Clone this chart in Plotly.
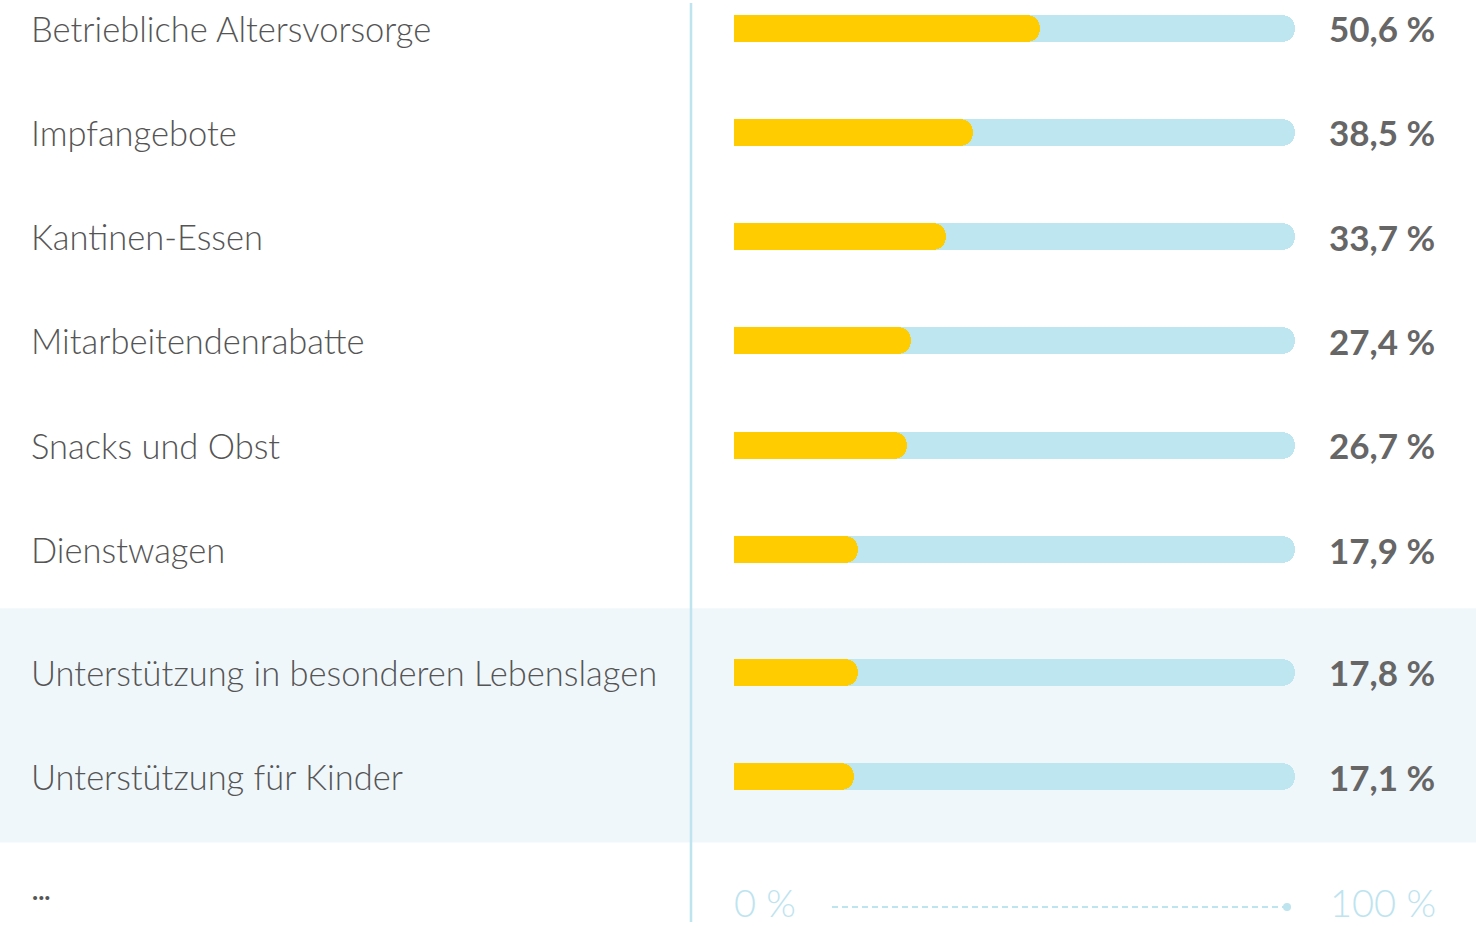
import plotly.graph_objects as go

categories = [
    "Betriebliche Altersvorsorge",
    "Impfangebote",
    "Kantinen-Essen",
    "Mitarbeitendenrabatte",
    "Snacks und Obst",
    "Dienstwagen",
    "Unterstützung in besonderen Lebenslagen",
    "Unterstützung für Kinder",
]
values = [50.6, 38.5, 33.7, 27.4, 26.7, 17.9, 17.8, 17.1]
value_labels = ["50,6 %", "38,5 %", "33,7 %", "27,4 %", "26,7 %", "17,9 %", "17,8 %", "17,1 %"]
highlighted = [False, False, False, False, False, False, True, True]
scale_labels = ["0 %", "100 %"]

# ---- layout constants ----
W, H = 1476, 926
ROW_PX = 104.3
ROW0_PX = 28
GAP = 0.177          # extra space before the highlighted group (in rows)
X_MIN, X_MAX = -4.4, 96.3
CAP = 4.0            # square-cornered start piece (axis units)
BAR_PX = 27

YELLOW = "#ffcc00"
TRACK = "#bee6f0"
LINE = "#bde4ef"
BAND = "#f0f7fb"
TXT = "#555555"
VAL = "#666666"

ypos = []
g = 0.0
for i, h in enumerate(highlighted):
    if h and (i == 0 or not highlighted[i - 1]):
        g += GAP
    ypos.append(i + g)

def px_to_y(p):
    return (p - ROW0_PX) / ROW_PX

y_top = px_to_y(0)
y_bot = px_to_y(H)
bar_w = BAR_PX / ROW_PX
n = len(ypos)

fig = go.Figure()

# track (rounded end) + square start
fig.add_trace(go.Bar(
    y=ypos, x=[X_MAX - X_MIN] * n, base=[X_MIN] * n,
    orientation="h", width=bar_w,
    marker=dict(color=TRACK, cornerradius=13, line=dict(width=0)),
    hoverinfo="skip", showlegend=False,
))
fig.add_trace(go.Bar(
    y=ypos, x=[CAP] * n, base=[X_MIN] * n,
    orientation="h", width=bar_w,
    marker=dict(color=TRACK, line=dict(width=0)),
    hoverinfo="skip", showlegend=False,
))
# values (rounded end) + square start
fig.add_trace(go.Bar(
    y=ypos, x=[v - X_MIN for v in values], base=[X_MIN] * n,
    orientation="h", width=bar_w,
    marker=dict(color=YELLOW, cornerradius=13, line=dict(width=0)),
    customdata=values, hovertemplate="%{customdata} %<extra></extra>",
    showlegend=False,
))
fig.add_trace(go.Bar(
    y=ypos, x=[CAP] * n, base=[X_MIN] * n,
    orientation="h", width=bar_w,
    marker=dict(color=YELLOW, line=dict(width=0)),
    hoverinfo="skip", showlegend=False,
))

annotations = []
for c, yv, lab in zip(categories, ypos, value_labels):
    annotations.append(dict(
        x=29 / W, xref="paper", y=yv, yref="y", text=c, showarrow=False,
        xanchor="left", yanchor="middle",
        font=dict(family="Lato", size=34.5, color=TXT, weight=300),
    ))
    annotations.append(dict(
        x=1437 / W, xref="paper", y=yv, yref="y", text=lab, showarrow=False,
        xanchor="right", yanchor="middle",
        font=dict(family="Lato", size=35, color=VAL, weight=700),
    ))

annotations.append(dict(
    x=30 / W, xref="paper", y=1 - 890 / H, yref="paper", text="...", showarrow=False,
    xanchor="left", yanchor="middle",
    font=dict(family="Lato", size=26, color=TXT, weight=700),
))
annotations.append(dict(
    x=732 / W, xref="paper", y=1 - 902 / H, yref="paper", text=scale_labels[0], showarrow=False,
    xanchor="left", yanchor="middle",
    font=dict(family="Lato", size=38, color=LINE, weight=300),
))
annotations.append(dict(
    x=1438 / W, xref="paper", y=1 - 902 / H, yref="paper", text=scale_labels[1], showarrow=False,
    xanchor="right", yanchor="middle",
    font=dict(family="Lato", size=38, color=LINE, weight=300),
))

band_lo = min(y for y, h in zip(ypos, highlighted) if h)
band_hi = max(y for y, h in zip(ypos, highlighted) if h)

shapes = [
    dict(type="rect", xref="paper", yref="y", x0=0, x1=1,
         y0=band_lo - px_to_y(672) + px_to_y(608), y1=band_hi + px_to_y(843) - px_to_y(777),
         fillcolor=BAND, line=dict(width=0), layer="below"),
    dict(type="line", xref="paper", yref="paper", x0=691 / W, x1=691 / W,
         y0=1 - 3 / H, y1=1 - 922 / H, line=dict(color=LINE, width=2.5)),
    dict(type="line", xref="paper", yref="paper", x0=832 / W, x1=1286 / W,
         y0=1 - 907 / H, y1=1 - 907 / H, line=dict(color=LINE, width=2, dash="6px,4px")),
    dict(type="circle", xref="paper", yref="paper",
         x0=1283 / W, x1=1291 / W, y0=1 - 903 / H, y1=1 - 911 / H,
         fillcolor=LINE, line=dict(width=0)),
]

fig.update_layout(
    width=W, height=H,
    margin=dict(l=0, r=0, t=0, b=0),
    paper_bgcolor="white", plot_bgcolor="rgba(0,0,0,0)",
    barmode="overlay", bargap=0,
    xaxis=dict(domain=[734 / W, 1295 / W], range=[X_MIN, X_MAX],
               visible=False, fixedrange=True),
    yaxis=dict(range=[y_bot, y_top], visible=False, fixedrange=True),
    annotations=annotations, shapes=shapes,
)

fig.write_html(
    "out.html",
    config={"displayModeBar": False},
    post_script="document.body.style.margin='0';document.body.style.overflow='hidden';",
)
